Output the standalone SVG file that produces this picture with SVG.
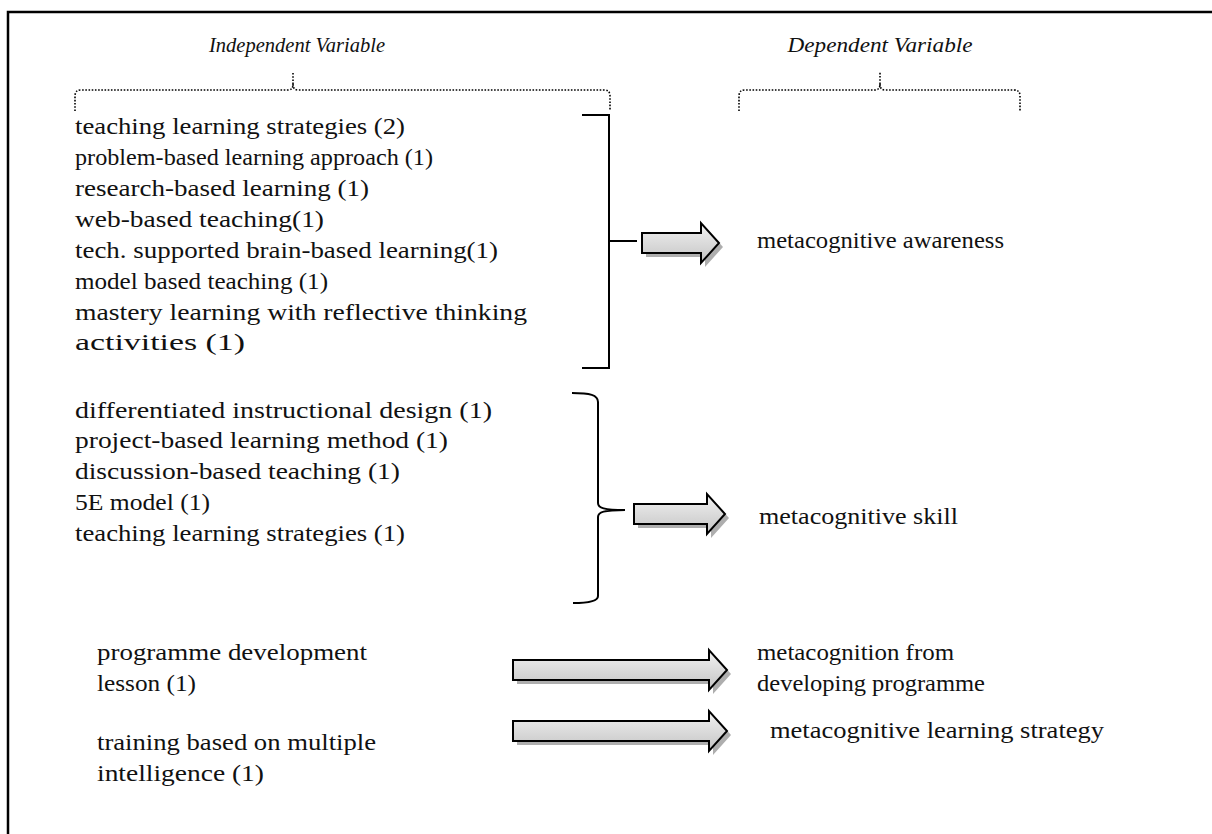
<svg xmlns="http://www.w3.org/2000/svg" width="1212" height="834" viewBox="0 0 1212 834">
  <style>
    .t { font-family: "Liberation Serif", "DejaVu Serif", serif; font-size: 24px; fill: #111; }
    .h { font-family: "Liberation Serif", "DejaVu Serif", serif; font-size: 22px; font-style: italic; fill: #111; }
    .frame { stroke: #000; stroke-width: 2.5; fill: none; }
    .dot { stroke: #000; stroke-width: 1.6; fill: none; stroke-dasharray: 1.6 1.6; }
    .br { stroke: #000; stroke-width: 2; fill: none; }
    .arrow { fill: url(#arrowFill); stroke: #000; stroke-width: 2; stroke-linejoin: miter; }
    .shadow { fill: #9a9a9a; opacity: 0.8; }
  </style>
  <defs>
    <linearGradient id="arrowFill" x1="0" y1="0" x2="0" y2="1">
      <stop offset="0" stop-color="#f2f2f2"/>
      <stop offset="1" stop-color="#c4c4c4"/>
    </linearGradient>
  </defs>

  <rect width="1212" height="834" fill="#fff"/>
  <!-- outer frame (left and top edges) -->
  <path class="frame" d="M8,834 L8,12 L1212,12"/>

  <!-- column headings -->
  <g id="heading-independent">
    <text class="h" x="297" y="52" text-anchor="middle" textLength="176" lengthAdjust="spacingAndGlyphs">Independent Variable</text>
    <path class="dot" d="M75,111 L75,96 Q75,90 81,90 L288,90 Q293,90 293,84 L293,72 M293,84 Q293,90 298,90 L604,90 Q610,90 610,96 L610,111"/>
  </g>
  <g id="heading-dependent">
    <text class="h" x="880" y="52" text-anchor="middle" textLength="185" lengthAdjust="spacingAndGlyphs">Dependent Variable</text>
    <path class="dot" d="M739,111 L739,96 Q739,90 745,90 L875,90 Q880,90 880,84 L880,72 M880,84 Q880,90 885,90 L1014,90 Q1020,90 1020,96 L1020,111"/>
  </g>

  <!-- group 1: independent variables -->
  <g id="group-awareness-iv">
    <text class="t" x="75" y="134" textLength="330" lengthAdjust="spacingAndGlyphs">teaching learning strategies (2)</text>
    <text class="t" x="75" y="165" textLength="358" lengthAdjust="spacingAndGlyphs">problem-based learning approach (1)</text>
    <text class="t" x="75" y="196" textLength="294" lengthAdjust="spacingAndGlyphs">research-based learning (1)</text>
    <text class="t" x="75" y="227" textLength="249" lengthAdjust="spacingAndGlyphs">web-based teaching(1)</text>
    <text class="t" x="75" y="258" textLength="423" lengthAdjust="spacingAndGlyphs">tech. supported brain-based learning(1)</text>
    <text class="t" x="75" y="289" textLength="253" lengthAdjust="spacingAndGlyphs">model based teaching (1)</text>
    <text class="t" x="75" y="320" textLength="452" lengthAdjust="spacingAndGlyphs">mastery learning with reflective thinking</text>
    <text class="t" x="75" y="350" textLength="170" lengthAdjust="spacingAndGlyphs">activities (1)</text>
  </g>
  <g id="group-awareness-dv">
    <text class="t" x="757" y="248" textLength="247" lengthAdjust="spacingAndGlyphs">metacognitive awareness</text>
  </g>

  <!-- group 2 -->
  <g id="group-skill-iv">
    <text class="t" x="75" y="418" textLength="417" lengthAdjust="spacingAndGlyphs">differentiated instructional design (1)</text>
    <text class="t" x="75" y="448" textLength="373" lengthAdjust="spacingAndGlyphs">project-based learning method (1)</text>
    <text class="t" x="75" y="479" textLength="325" lengthAdjust="spacingAndGlyphs">discussion-based teaching (1)</text>
    <text class="t" x="75" y="510" textLength="135" lengthAdjust="spacingAndGlyphs">5E model (1)</text>
    <text class="t" x="75" y="541" textLength="330" lengthAdjust="spacingAndGlyphs">teaching learning strategies (1)</text>
  </g>
  <g id="group-skill-dv">
    <text class="t" x="759" y="524" textLength="199" lengthAdjust="spacingAndGlyphs">metacognitive skill</text>
  </g>

  <!-- group 3 -->
  <g id="group-programme-iv">
    <text class="t" x="97" y="660" textLength="270" lengthAdjust="spacingAndGlyphs">programme development</text>
    <text class="t" x="97" y="691" textLength="99" lengthAdjust="spacingAndGlyphs">lesson (1)</text>
  </g>
  <g id="group-programme-dv">
    <text class="t" x="757" y="660" textLength="197" lengthAdjust="spacingAndGlyphs">metacognition from</text>
    <text class="t" x="757" y="691" textLength="228" lengthAdjust="spacingAndGlyphs">developing programme</text>
  </g>

  <!-- group 4 -->
  <g id="group-training-iv">
    <text class="t" x="97" y="750" textLength="279" lengthAdjust="spacingAndGlyphs">training based on multiple</text>
    <text class="t" x="97" y="781" textLength="167" lengthAdjust="spacingAndGlyphs">intelligence (1)</text>
  </g>
  <g id="group-training-dv">
    <text class="t" x="770" y="738" textLength="334" lengthAdjust="spacingAndGlyphs">metacognitive learning strategy</text>
  </g>

  <!-- connectors: brackets and block arrows -->
  <g id="connectors">
    <path class="br" d="M582,115 L609,115 L609,368 L582,368 M609,241 L637,241"/>
    <path class="br" d="M572,393 C590,393 598,395 598,402 L598,503 C598,508 604,510 625,510 M625,510 C604,510 598,512 598,517 L598,596 C598,601 590,603 573,603"/>

    <g id="arrow-1">
      <path class="shadow" d="M646,237 L705,237 L705,227 L723,247 L705,267 L705,257 L646,257 Z"/>
      <path class="arrow" d="M642,233 L701,233 L701,223 L719,243 L701,263 L701,253 L642,253 Z"/>
    </g>
    <g id="arrow-2">
      <path class="shadow" d="M638,508 L711,508 L711,498 L729,518 L711,538 L711,528 L638,528 Z"/>
      <path class="arrow" d="M634,504 L707,504 L707,494 L725,514 L707,534 L707,524 L634,524 Z"/>
    </g>
    <g id="arrow-3">
      <path class="shadow" d="M517,664 L713,664 L713,654 L731,674 L713,694 L713,684 L517,684 Z"/>
      <path class="arrow" d="M513,660 L709,660 L709,650 L727,670 L709,690 L709,680 L513,680 Z"/>
    </g>
    <g id="arrow-4">
      <path class="shadow" d="M517,725 L713,725 L713,715 L731,735 L713,755 L713,745 L517,745 Z"/>
      <path class="arrow" d="M513,721 L709,721 L709,711 L727,731 L709,751 L709,741 L513,741 Z"/>
    </g>
  </g>
</svg>
